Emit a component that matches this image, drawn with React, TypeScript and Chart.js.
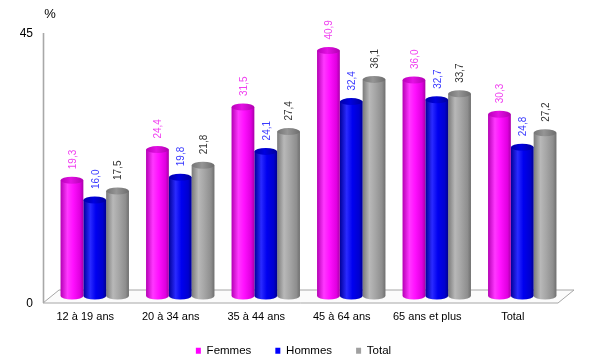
import React, { useEffect, useRef } from 'react';
import { Chart, registerables } from 'chart.js';

Chart.register(...registerables);

const categories = ['12 à 19 ans', '20 à 34 ans', '35 à 44 ans', '45 à 64 ans', '65 ans et plus', 'Total'];
const femmes = [19.3, 24.4, 31.5, 40.9, 36.0, 30.3];
const hommes = [16.0, 19.8, 24.1, 32.4, 32.7, 24.8];
const total = [17.5, 21.8, 27.4, 36.1, 33.7, 27.2];
const seriesNames = ['Femmes', 'Hommes', 'Total'];
const yTicks = [0, 45];
const yUnit = '%';

const palettes = [
  { solid: '#ff00ff', body: ['#b400b4', '#ff38ff', '#ff10ff', '#e000e0', '#a800a8'], top: ['#b800b8', '#e410e4', '#b000b0'], label: '#f040f0' },
  { solid: '#0000ff', body: ['#00009a', '#2a2aff', '#0000f0', '#0000d0', '#000090'], top: ['#0000a8', '#0000e0', '#00009a'], label: '#3a3aff' },
  { solid: '#a0a0a0', body: ['#7a7a7a', '#b8b8b8', '#a6a6a6', '#8e8e8e', '#6e6e6e'], top: ['#747474', '#959595', '#6c6c6c'], label: '#333333' },
];

const CAT_PCT = 0.8;
const FRONT_DY = 7;
const FRONT_DX = -9;
const DEPTH_DX = 16;
const DEPTH_DY = 13;
const LEGEND_SHIFT_X = -15;
const LEGEND_SHIFT_Y = -3;

function bodyGradient(ctx: CanvasRenderingContext2D, x0: number, w: number, stops: string[]) {
  const g = ctx.createLinearGradient(x0, 0, x0 + w, 0);
  const pos = [0, 0.3, 0.55, 0.85, 1];
  stops.forEach((c, i) => g.addColorStop(pos[i], c));
  return g;
}

const cylPlugin = {
  id: 'cyl3d',
  afterLayout(chart: any) {
    if (chart.legend) {
      chart.legend.left += LEGEND_SHIFT_X;
      chart.legend.right += LEGEND_SHIFT_X;
      chart.legend.top += LEGEND_SHIFT_Y;
      chart.legend.bottom += LEGEND_SHIFT_Y;
    }
  },
  beforeDatasetsDraw(chart: any) {
    const { ctx, chartArea } = chart;
    const ys = chart.scales.y;
    const base = ys.getPixelForValue(0);
    const fy = base + FRONT_DY;
    const fl = chartArea.left + FRONT_DX;
    const fr = chartArea.right - 7;
    ctx.save();
    // floor
    ctx.beginPath();
    ctx.moveTo(fl, fy);
    ctx.lineTo(fr, fy);
    ctx.lineTo(fr + DEPTH_DX, fy - DEPTH_DY);
    ctx.lineTo(fl + DEPTH_DX, fy - DEPTH_DY);
    ctx.closePath();
    ctx.fillStyle = '#fbfbfb';
    ctx.fill();
    ctx.strokeStyle = '#a6a6a6';
    ctx.lineWidth = 1;
    ctx.stroke();
    // y axis line (front plane)
    const topY = ys.getPixelForValue(yTicks[yTicks.length - 1]) + FRONT_DY;
    ctx.beginPath();
    ctx.moveTo(fl + 0.5, topY);
    ctx.lineTo(fl + 0.5, fy);
    ctx.strokeStyle = '#a8a8a8';
    ctx.lineWidth = 1.6;
    ctx.stroke();
    // y tick labels
    ctx.fillStyle = '#000';
    ctx.font = "12px 'Liberation Sans', Arial, sans-serif";
    ctx.textAlign = 'right';
    ctx.textBaseline = 'middle';
    yTicks.forEach((v) => {
      ctx.fillText(String(v), fl - 10, ys.getPixelForValue(v) + FRONT_DY + 1);
    });
    // unit
    ctx.font = "13px 'Liberation Sans', Arial, sans-serif";
    ctx.textAlign = 'center';
    ctx.fillText(yUnit, fl + 7, topY - 19);
    ctx.restore();
  },
  afterDatasetsDraw(chart: any) {
    const { ctx } = chart;
    ctx.save();
    chart.data.datasets.forEach((ds: any, di: number) => {
      const meta = chart.getDatasetMeta(di);
      const pal = palettes[di];
      meta.data.forEach((el: any, i: number) => {
        const w = el.width;
        const x0 = el.x - w / 2;
        const ry = 3.5;
        // bottom half ellipse
        ctx.beginPath();
        ctx.ellipse(el.x, el.base, w / 2, ry, 0, 0, Math.PI);
        ctx.closePath();
        ctx.fillStyle = bodyGradient(ctx, x0, w, pal.body);
        ctx.fill();
        // top ellipse
        const tg = ctx.createLinearGradient(x0, 0, x0 + w, 0);
        tg.addColorStop(0, pal.top[0]);
        tg.addColorStop(0.45, pal.top[1]);
        tg.addColorStop(1, pal.top[2]);
        ctx.beginPath();
        ctx.ellipse(el.x, el.y, w / 2, ry, 0, 0, Math.PI * 2);
        ctx.fillStyle = tg;
        ctx.fill();
        // value label
        const v = ds.data[i] as number;
        ctx.save();
        ctx.translate(el.x + 1, el.y - 11);
        ctx.rotate(-Math.PI / 2);
        ctx.fillStyle = pal.label;
        ctx.font = "10px 'Liberation Sans', Arial, sans-serif";
        ctx.textAlign = 'left';
        ctx.textBaseline = 'middle';
        ctx.fillText(v.toFixed(1).replace('.', ','), 0, 0);
        ctx.restore();
      });
    });
    ctx.restore();
  },
};

function makeBg(di: number) {
  return (c: any) => {
    const chart = c.chart;
    const pal = palettes[di];
    if (c.dataIndex === undefined || !chart.chartArea) return pal.solid;
    const xs = chart.scales.x;
    const center = xs.getPixelForValue(c.dataIndex);
    const cat = xs.width / categories.length;
    const bw = (cat * CAT_PCT) / 3;
    const x0 = center + (di - 1.5) * bw;
    return bodyGradient(chart.ctx, x0, bw, pal.body);
  };
}

export default function App() {
  const ref = useRef<HTMLCanvasElement | null>(null);
  useEffect(() => {
    if (!ref.current) return;
    Chart.defaults.font.family = "'Liberation Sans', Arial, sans-serif";
    const seriesData = [femmes, hommes, total];
    const chart = new Chart(ref.current, {
      type: 'bar',
      data: {
        labels: categories,
        datasets: seriesData.map((d, di) => ({
          label: seriesNames[di],
          data: d,
          backgroundColor: makeBg(di),
          borderWidth: 0,
          categoryPercentage: CAT_PCT,
          barPercentage: 1,
        })),
      },
      options: {
        animation: false,
        responsive: true,
        maintainAspectRatio: false,
        events: [],
        layout: { padding: { left: 52, right: 35, top: 26, bottom: -7.5 } },
        scales: {
          x: {
            grid: { display: false, drawTicks: false },
            border: { display: false },
            ticks: { padding: 14, labelOffset: -9.5, color: '#000', font: { size: 11 }, maxRotation: 0, autoSkip: false },
            afterFit: (s: any) => { s.height = 28; },
          },
          y: { display: false, min: 0, max: 45 },
        },
        plugins: {
          tooltip: { enabled: false },
          legend: {
            position: 'bottom',
            labels: {
              boxWidth: 5,
              boxHeight: 6,
              padding: 24,
              color: '#000',
              font: { size: 11.5 },
              generateLabels: (ch: any) =>
                ch.data.datasets.map((ds: any, i: number) => ({
                  text: ds.label,
                  fillStyle: palettes[i].solid,
                  strokeStyle: palettes[i].solid,
                  lineWidth: 0,
                  fontColor: '#000',
                  hidden: false,
                  datasetIndex: i,
                })),
            },
          },
        },
      },
      plugins: [cylPlugin],
    });
    return () => chart.destroy();
  }, []);
  return (
    <div style={{ position: 'absolute', left: 0, top: 0, width: 600, height: 362, background: '#fff' }}>
      <canvas ref={ref} />
    </div>
  );
}
